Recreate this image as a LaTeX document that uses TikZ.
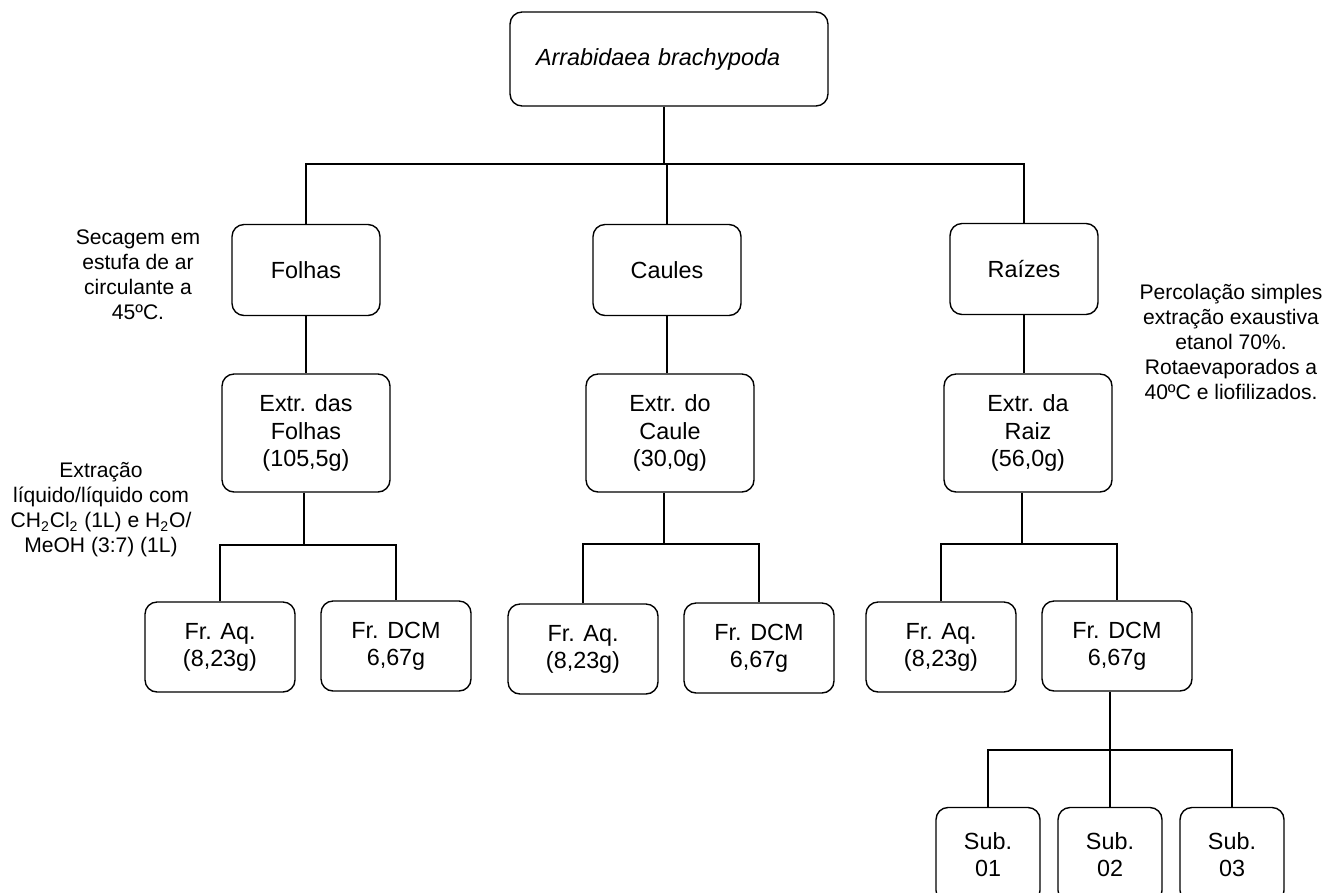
\documentclass[tikz,border=0pt]{standalone}
\usepackage{fontspec}
\setmainfont{Liberation Sans}
\usepackage{tikz}

\begin{document}
\begin{tikzpicture}[x=0.02cm,y=-0.02cm,line width=0.8pt,
    every node/.style={font=\fontsize{12}{14.2}\selectfont,align=center,inner sep=0pt},
    box/.style={draw,rounded corners=2.4mm,font=\fontsize{13.3}{15.5}\selectfont,minimum width=2.96cm,minimum height=1.82cm},
    ext/.style={box,minimum width=3.36cm,minimum height=2.36cm},
    frac/.style={box,minimum width=3cm,minimum height=1.8cm},
    sub/.style={box,minimum width=2.08cm,minimum height=1.9cm}]
\useasboundingbox (0,0) rectangle (1327,892);

\node[box,minimum width=6.36cm,minimum height=1.88cm,text width=5.32cm,align=left](top) at (669,59) {\itshape Arrabidaea brachypoda};

\node[box](fo) at (306,270) {Folhas};
\node[box](ca) at (667,270) {Caules};
\node[box](ra) at (1024,269) {Raízes};

\node[ext](efo) at (306,433) {Extr. das\\Folhas\\(105,5g)};
\node[ext](eca) at (670,433) {Extr. do\\Caule\\(30,0g)};
\node[ext](era) at (1028,433) {Extr. da\\Raiz\\(56,0g)};

\node[frac](aq1) at (220,647) {Fr. Aq.\\(8,23g)};
\node[frac](dcm1) at (396,646) {Fr. DCM\\6,67g};
\node[frac](aq2) at (583,649) {Fr. Aq.\\(8,23g)};
\node[frac](dcm2) at (759,648) {Fr. DCM\\6,67g};
\node[frac](aq3) at (941,647) {Fr. Aq.\\(8,23g)};
\node[frac](dcm3) at (1117,646) {Fr. DCM\\6,67g};

\node[sub](s1) at (988,855) {Sub.\\01};
\node[sub](s2) at (1110,855) {Sub.\\02};
\node[sub](s3) at (1232,855) {Sub.\\03};

\node(sec) at (138,275) {Secagem em\\estufa de ar\\circulante a\\45ºC.};
\node(liq) at (101,510) {Extração\\líquido/líquido com\\CH\textsubscript{2}Cl\textsubscript{2} (1L) e H\textsubscript{2}O/\\MeOH (3:7) (1L)};
\node(perc) at (1231,342) {Percolação simples\\extração exaustiva\\etanol 70\%.\\Rotaevaporados a\\40ºC e liofilizados.};

\coordinate (j0) at (664,164);
\coordinate (j1) at (304,545);
\coordinate (j2) at (664,544);
\coordinate (j3) at (1022,544);
\coordinate (j4) at (1110,750);

\draw (top.south -| j0) -- (j0);
\draw (fo.north) |- (j0) -| (ra.north);
\draw (ca.north) -- (ca.north |- j0);

\draw (fo) -- (fo |- efo.north);
\draw (ca) -- (ca |- eca.north);
\draw (ra) -- (ra |- era.north);

\draw (efo.south -| j1) -- (j1);
\draw (aq1.north) |- (j1) -| (dcm1.north);
\draw (eca.south -| j2) -- (j2);
\draw (aq2.north) |- (j2) -| (dcm2.north);
\draw (era.south -| j3) -- (j3);
\draw (aq3.north) |- (j3) -| (dcm3.north);

\draw (dcm3.south -| j4) -- (j4);
\draw (s1.north) |- (j4) -| (s3.north);
\draw (s2) -- (j4);
\end{tikzpicture}
\end{document}
